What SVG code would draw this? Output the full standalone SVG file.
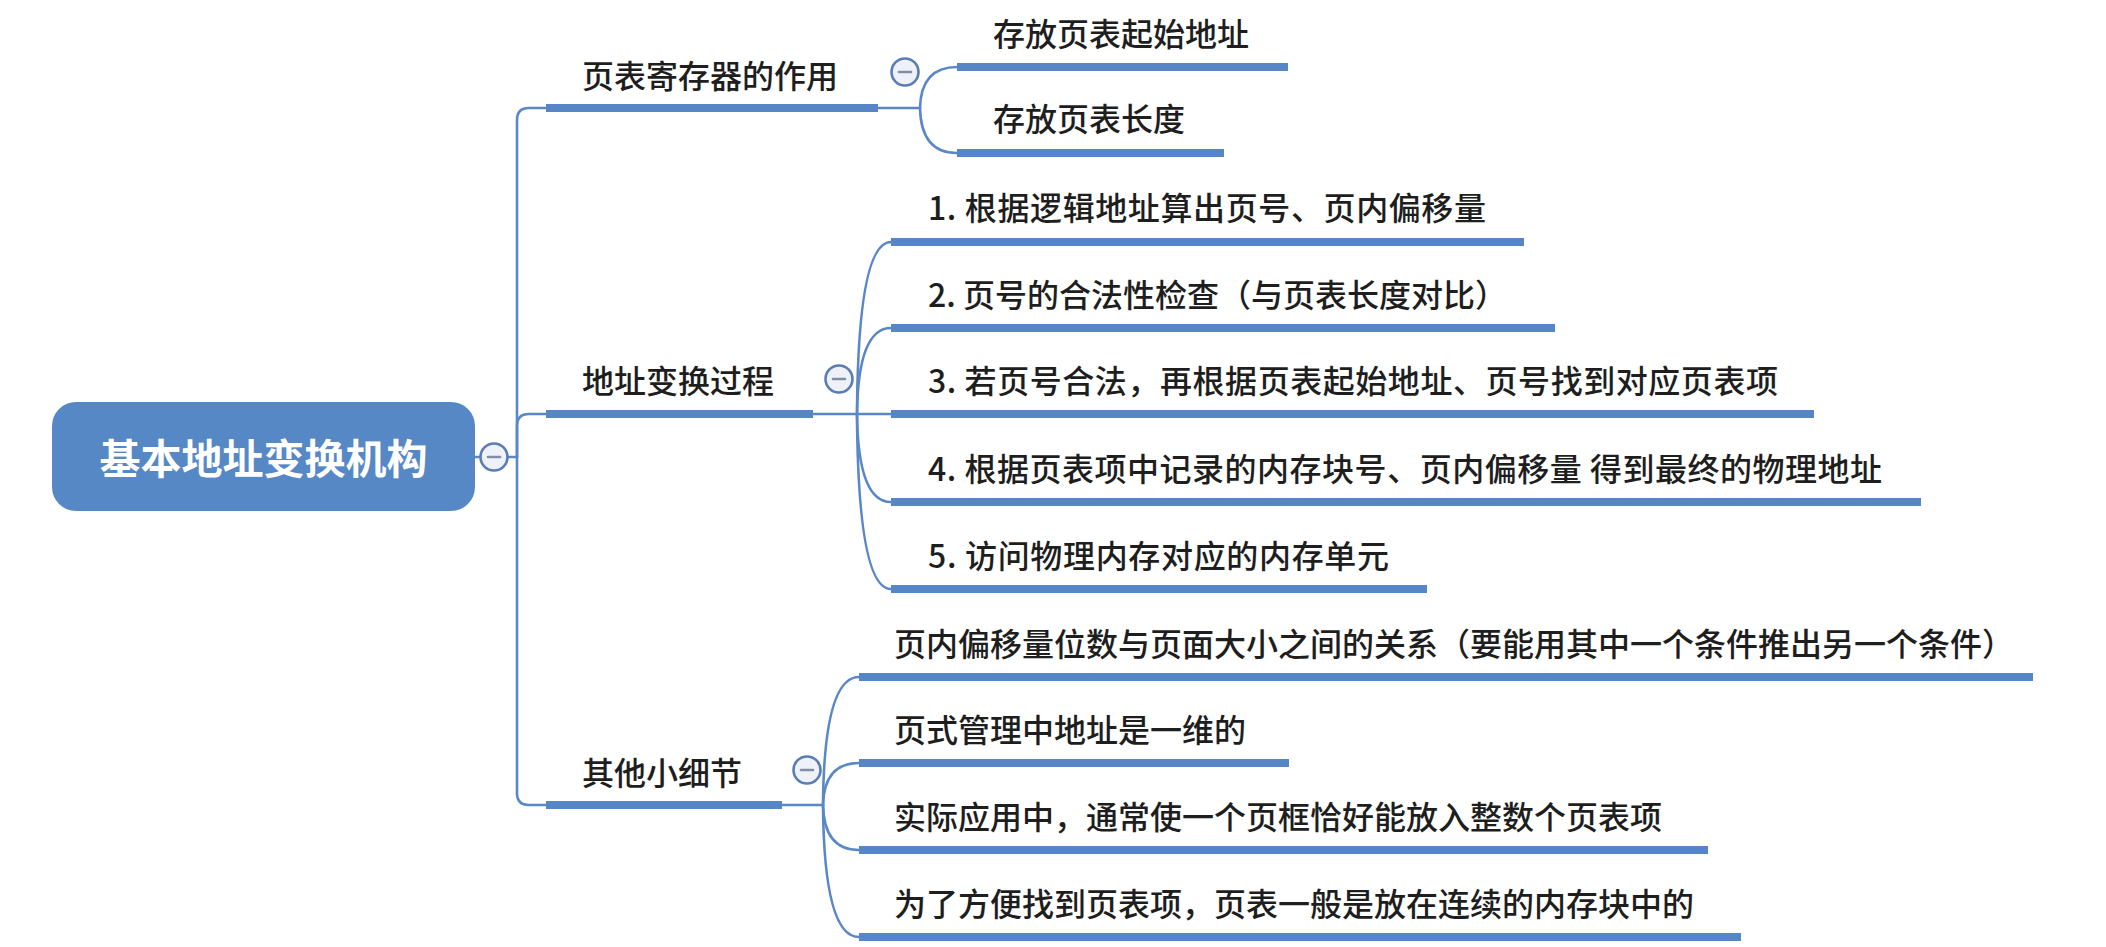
<svg xmlns="http://www.w3.org/2000/svg" width="2106" height="947" viewBox="0 0 2106 947">
  <style>
    .bar { stroke: #5686c5; stroke-width: 8; fill: none; }
    .ln { stroke: #5a88c6; stroke-width: 2.6; fill: none; stroke-linecap: round; }
    .tx { font-family: "Noto Sans CJK SC", "Noto Sans", sans-serif; font-size: 32px; font-weight: 500; fill: #1e1e1e; }
    .root-tx { font-family: "Noto Sans CJK SC", "Noto Sans", sans-serif; font-size: 41px; font-weight: bold; fill: #ffffff; }
    .col { fill: #eef1f8; stroke: #5a7db3; stroke-width: 2.6; }
    .minus { stroke: #7f8ea8; stroke-width: 2.6; stroke-linecap: round; }
  </style>
  <defs>
    <g id="collapse">
      <circle cx="0" cy="0" r="13.5" class="col"/>
      <line x1="-6" y1="0" x2="6" y2="0" class="minus"/>
    </g>
  </defs>
  <rect width="2106" height="947" fill="#ffffff"/>

  <g id="connectors">
    <path class="ln" d="M475,457 L517,457"/>
    <path class="ln" d="M517,457 L517,120 Q517,108 529,108 L546,108"/>
    <path class="ln" d="M517,457 L517,426 Q517,414 529,414 L546,414"/>
    <path class="ln" d="M517,457 L517,793 Q517,805 529,805 L546,805"/>
    <path class="ln" d="M878,108 L920,108"/>
    <path class="ln" d="M920,108 Q921,67 957,67"/>
    <path class="ln" d="M920,108 Q921,153 957,153"/>
    <path class="ln" d="M813,414 L857,414"/>
    <path class="ln" d="M857,414 Q858,242 891,242"/>
    <path class="ln" d="M857,414 Q858,328 891,328"/>
    <path class="ln" d="M857,414 L891,414"/>
    <path class="ln" d="M857,414 Q858,502 891,502"/>
    <path class="ln" d="M857,414 Q858,589 891,589"/>
    <path class="ln" d="M782,805 L823,805"/>
    <path class="ln" d="M823,805 Q824,677 859,677"/>
    <path class="ln" d="M823,805 Q824,763 859,763"/>
    <path class="ln" d="M823,805 Q824,850 859,850"/>
    <path class="ln" d="M823,805 Q824,937 859,937"/>
  </g>

  <g id="root">
    <rect x="52" y="402" width="423" height="109" rx="24" ry="24" fill="#5688c6"/>
    <text class="root-tx" x="263.5" y="474" text-anchor="middle">基本地址变换机构</text>
    <use href="#collapse" x="494" y="457"/>
  </g>

  <g id="n-register">
    <line class="bar" x1="546" y1="108" x2="878" y2="108"/>
    <text class="tx" x="582" y="88">页表寄存器的作用</text>
    <use href="#collapse" x="905" y="72"/>
  </g>
  <g id="n-reg-start">
    <line class="bar" x1="957" y1="67" x2="1288" y2="67"/>
    <text class="tx" x="993" y="46">存放页表起始地址</text>
  </g>
  <g id="n-reg-len">
    <line class="bar" x1="957" y1="153" x2="1224" y2="153"/>
    <text class="tx" x="993" y="131">存放页表长度</text>
  </g>

  <g id="n-process">
    <line class="bar" x1="546" y1="414" x2="813" y2="414"/>
    <text class="tx" x="582" y="393">地址变换过程</text>
    <use href="#collapse" x="839" y="379"/>
  </g>
  <g id="n-step1">
    <line class="bar" x1="891" y1="242" x2="1524" y2="242"/>
    <text class="tx" x="928" y="220" textLength="558">1. 根据逻辑地址算出页号、页内偏移量</text>
  </g>
  <g id="n-step2">
    <line class="bar" x1="891" y1="328" x2="1555" y2="328"/>
    <text class="tx" x="928" y="307">2. 页号的合法性检查（与页表长度对比）</text>
  </g>
  <g id="n-step3">
    <line class="bar" x1="891" y1="414" x2="1814" y2="414"/>
    <text class="tx" x="928" y="393" textLength="850">3. 若页号合法，再根据页表起始地址、页号找到对应页表项</text>
  </g>
  <g id="n-step4">
    <line class="bar" x1="891" y1="502" x2="1921" y2="502"/>
    <text class="tx" x="928" y="481" textLength="954">4. 根据页表项中记录的内存块号、页内偏移量 得到最终的物理地址</text>
  </g>
  <g id="n-step5">
    <line class="bar" x1="891" y1="589" x2="1427" y2="589"/>
    <text class="tx" x="928" y="568" textLength="461">5. 访问物理内存对应的内存单元</text>
  </g>

  <g id="n-details">
    <line class="bar" x1="546" y1="805" x2="782" y2="805"/>
    <text class="tx" x="582" y="785">其他小细节</text>
    <use href="#collapse" x="807" y="770"/>
  </g>
  <g id="n-d1">
    <line class="bar" x1="859" y1="677" x2="2033" y2="677"/>
    <text class="tx" x="894" y="656">页内偏移量位数与页面大小之间的关系（要能用其中一个条件推出另一个条件）</text>
  </g>
  <g id="n-d2">
    <line class="bar" x1="859" y1="763" x2="1289" y2="763"/>
    <text class="tx" x="894" y="742">页式管理中地址是一维的</text>
  </g>
  <g id="n-d3">
    <line class="bar" x1="859" y1="850" x2="1708" y2="850"/>
    <text class="tx" x="894" y="829">实际应用中，通常使一个页框恰好能放入整数个页表项</text>
  </g>
  <g id="n-d4">
    <line class="bar" x1="859" y1="937" x2="1741" y2="937"/>
    <text class="tx" x="894" y="916">为了方便找到页表项，页表一般是放在连续的内存块中的</text>
  </g>
</svg>
